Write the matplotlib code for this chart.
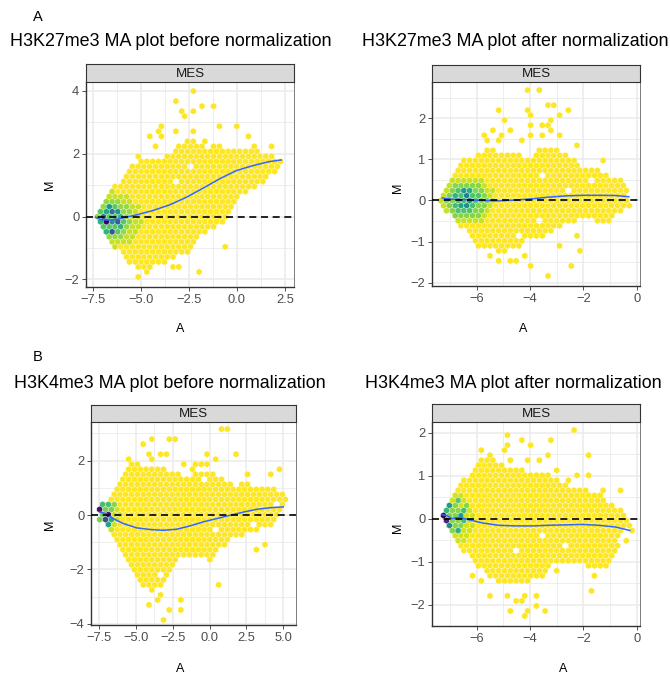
import numpy as np
import matplotlib
matplotlib.use("Agg")
import matplotlib.pyplot as plt

plt.rcParams['font.family'] = ['Liberation Sans', 'DejaVu Sans']

W, H, DPI = 670, 674, 100

# ------------------------------------------------------------------ data
titles = ["H3K27me3 MA plot before normalization",
          "H3K27me3 MA plot after normalization",
          "H3K4me3 MA plot before normalization",
          "H3K4me3 MA plot after normalization"]
strip_label = "MES"
row_letters = ["A", "B"]

# --- panel 1 (H3K27me3 before)
p1_env_a = [-7.4, -7.0, -6.5, -6.0, -5.5, -5.0, -4.5, -4.0, -3.5, -3.0, -2.5, -2.0, -1.5, -1.0, -0.5, -0.2, 0.0, 0.5, 1.0, 1.5, 2.0, 2.4]
p1_env_lo = [-0.1, -0.6, -0.92, -1.24, -1.5, -1.75, -1.67, -1.5, -1.45, -1.24, -1.03, -0.7, -0.45, -0.3, -0.05, 0.3, 0.6, 0.72, 0.88, 1.2, 1.4, 1.55]
p1_env_hi = [0.15, 0.5, 0.88, 1.14, 1.62, 1.84, 1.78, 1.85, 2.0, 2.3, 2.45, 2.4, 2.15, 2.3, 2.2, 2.15, 2.15, 2.2, 2.15, 2.0, 1.9, 1.7]
p1_out_a = [-2.33, -3.30, -1.86, -1.20, -2.99, -2.33, -2.64, -3.94, -0.07, -3.16, -4.12, -2.12, -0.85, 0.57, -4.64, -1.69, -4.03, 0.92, 1.87, -4.20, -5.25,
            -5.07, -4.64, -2.03, -0.56, -2.90, -3.86, -3.34, -2.55]
p1_out_m = [3.98, 3.62, 3.48, 3.48, 3.30, 3.30, 3.13, 2.95, 2.95, 2.79, 2.79, 2.68, 2.79, 2.61, 2.61, 2.47, 2.60, 2.26, 2.28, 2.15, 1.96,
            -1.93, -1.77, -1.77, -0.95, -1.61, -1.46, -1.51, -1.11]
p1_hole_a = [-3.16, -2.29]
p1_hole_m = [1.11, 1.62]
p1_zone_a = [-6.5, -6.5, -6.5]
p1_zone_m = [-0.1, -0.1, -0.1]
p1_zone_ra = [1.55, 1.05, 0.7]
p1_zone_rm = [0.9, 0.7, 0.5]
p1_zone_t = [0.08, 0.16, 0.26]
p1_dense_a = [-6.74, -6.55, -6.2, -6.91, -6.46, -6.55, -6.11, -6.17, -6.38, -7.12, -6.9, -6.75, -6.1, -5.9]
p1_dense_m = [-0.25, -0.44, -0.08, -0.06, 0.08, 0.30, 0.08, -0.22, -0.20, -0.21, -0.45, 0.15, -0.40, -0.06]
p1_dense_t = [1.0, 0.72, 0.7, 0.65, 0.6, 0.48, 0.48, 0.5, 0.5, 0.35, 0.35, 0.4, 0.35, 0.35]
p1_loess_a = [-7.36, -7.07, -6.63, -6.20, -5.77, -5.25, -4.38, -3.51, -2.64, -1.77, -0.90, -0.04, 0.83, 1.70, 2.31]
p1_loess_m = [-0.02, -0.10, -0.11, -0.08, -0.02, 0.05, 0.19, 0.37, 0.61, 0.90, 1.20, 1.46, 1.62, 1.75, 1.80]

# --- panel 2 (H3K27me3 after)
p2_env_a = [-7.36, -7.0, -6.5, -6.0, -5.5, -5.0, -4.5, -4.0, -3.5, -3.0, -2.5, -2.0, -1.5, -1.0, -0.5, -0.35]
p2_env_lo = [-0.12, -0.36, -0.69, -1.17, -1.21, -1.25, -1.17, -0.93, -0.93, -0.69, -0.53, -0.44, -0.52, -0.52, -0.2, -0.1]
p2_env_hi = [0.2, 0.5, 1.06, 1.1, 1.26, 1.14, 1.14, 1.0, 1.34, 1.3, 1.06, 0.81, 0.85, 0.53, 0.53, 0.3]
p2_out_a = [-4.14, -3.68, -5.2, -3.33, -3.08, -2.6, -4.11, -3.93, -2.95, -4.99, -3.30, -3.93, -3.65, -3.24, -5.43, -4.71, -3.2,
            -5.8, -5.08, -3.93, -3.65, -2.95, -5.61, -5.24, -4.24, -2.24, -1.36,
            -5.55, -5.18, -4.74, -4.49, -4.24, -4.05, -3.93, -3.43, -2.49, -2.11, -2.99, -2.24, -0.2]
p2_out_m = [2.66, 2.66, 2.26, 2.26, 2.26, 2.26, 2.13, 2.13, 2.13, 2.0, 2.0, 1.87, 1.87, 1.87, 1.73, 1.73, 1.73,
            1.6, 1.6, 1.6, 1.6, 1.6, 1.46, 1.46, 1.46, 1.34, 0.94,
            -1.33, -1.46, -1.46, -1.5, -1.38, -1.58, -1.58, -1.86, -1.58, -1.19, -1.07, -0.93, -0.15]
p2_hole_a = [-3.55, -2.55, -1.76, -3.68, -4.36]
p2_hole_m = [0.68, 0.27, 0.53, -0.52, -0.81]
p2_zone_a = [-6.4, -6.4, -6.4]
p2_zone_m = [0.0, 0.0, 0.0]
p2_zone_ra = [1.1, 0.8, 0.5]
p2_zone_rm = [0.6, 0.47, 0.32]
p2_zone_t = [0.08, 0.18, 0.28]
p2_dense_a = [-6.45, -6.36, -6.18, -6.49, -6.6, -6.2, -6.75, -6.9]
p2_dense_m = [0.13, -0.12, -0.04, 0.25, -0.05, 0.2, 0.1, -0.1]
p2_dense_t = [0.58, 0.5, 0.45, 0.45, 0.42, 0.38, 0.35, 0.3]
p2_loess_a = [-7.30, -6.93, -6.43, -5.80, -5.18, -4.55, -3.93, -3.30, -2.68, -2.05, -1.43, -0.80, -0.30]
p2_loess_m = [0.06, 0.03, 0.02, 0.0, -0.01, 0.01, 0.04, 0.08, 0.11, 0.125, 0.125, 0.12, 0.09]

# --- panel 3 (H3K4me3 before)
p3_env_a = [-7.48, -7.0, -6.5, -6.0, -5.5, -5.0, -4.5, -4.0, -3.5, -3.0, -2.5, -2.0, -1.5, -1.0, -0.5, 0.0, 0.5, 1.0, 1.5, 2.0, 2.5, 3.0, 3.5, 4.0, 4.5, 5.0, 5.3]
p3_env_lo = [-0.2, -0.5, -0.87, -1.3, -1.72, -2.2, -2.64, -2.95, -2.7, -2.46, -1.85, -1.54, -1.48, -1.48, -1.48, -1.66, -1.48, -1.1, -0.87, -0.8, -0.62, -0.62, -0.5, -0.45, -0.19, 0.12, 0.6]
p3_env_hi = [0.18, 0.54, 0.97, 1.4, 1.83, 1.95, 1.71, 1.83, 1.77, 1.7, 1.6, 1.46, 1.4, 1.6, 1.6, 1.65, 1.4, 1.28, 1.16, 1.1, 1.2, 1.1, 0.97, 0.97, 0.97, 0.91, 0.8]
p3_out_a = [0.64, 1.04, -4.45, -3.93, -2.69, -2.28, -3.48, -3.09, -4.22, -0.2, 1.83, -5.4, -3.93, 0.43, -1.9, -1.15, -0.65, -0.2, 0.02, -1.33, 2.69, 3.98, 4.55,
            -2.08, -2.08, 0.59, -3.14, -2.91, -4.04, -3.7, -3.36, 3.12, 3.75]
p3_out_m = [3.09, 3.09, 2.69, 2.69, 2.69, 2.69, 2.28, 2.28, 2.32, 2.28, 2.28, 2.1, 2.1, 2.1, 1.89, 1.89, 1.89, 1.89, 1.89, 1.71, 1.49, 1.49, 1.71,
            -3.19, -3.54, -2.55, -3.75, -3.54, -3.26, -3.07, -3.01, -1.3, -0.99]
p3_hole_a = [-0.43, 2.9, 3.75, 4.55, 0.48, -3.48, -4.16]
p3_hole_m = [1.34, -0.3, -0.72, 0.48, -0.62, -2.15, -2.7]
p3_zone_a = [-7.0, -7.1]
p3_zone_m = [0.0, 0.0]
p3_zone_ra = [0.95, 0.55]
p3_zone_rm = [0.6, 0.38]
p3_zone_t = [0.07, 0.2]
p3_dense_a = [-7.43, -7.03, -7.21, -7.03, -7.2, -6.8, -6.8, -6.53]
p3_dense_m = [0.09, 0.09, -0.13, -0.31, 0.3, 0.3, -0.13, 0.48]
p3_dense_t = [0.95, 0.95, 0.75, 0.42, 0.3, 0.3, 0.38, 0.18]
p3_loess_a = [-7.43, -6.98, -6.53, -5.85, -4.95, -4.04, -3.14, -2.23, -1.33, -0.43, 0.48, 1.38, 2.29, 3.19, 4.09, 4.99]
p3_loess_m = [0.11, 0.05, -0.13, -0.31, -0.47, -0.53, -0.56, -0.52, -0.40, -0.25, -0.13, -0.01, 0.11, 0.21, 0.27, 0.30]

# --- panel 4 (H3K4me3 after)
p4_env_a = [-7.33, -7.0, -6.5, -6.0, -5.5, -5.0, -4.5, -4.0, -3.5, -3.0, -2.5, -2.0, -1.5, -1.0, -0.5, -0.2]
p4_env_lo = [-0.07, -0.38, -0.73, -1.08, -1.39, -1.54, -1.54, -1.46, -1.31, -1.0, -1.08, -1.08, -1.15, -1.08, -0.3, -0.15]
p4_env_hi = [0.08, 0.43, 0.9, 1.32, 1.47, 1.24, 1.16, 1.09, 1.1, 0.93, 0.74, 0.7, 0.62, 0.35, 0.16, 0.0]
p4_out_a = [-2.45, -4.93, -4.33, -3.99, -3.18, -5.74, -5.49, -5.03, -4.93, -3.3, -1.86, -4.68, -4.11, -3.68, -2.93, -2.24, -1.74, -2.58, -1.18, -0.68,
            -1.61, -1.74, -5.4, -4.93, -4.61, -4.36, -4.24, -3.86, -4.8, -4.24, -4.05, -3.39, -3.74, -2.99, -6.11, -5.8, -0.43, -0.18]
p4_out_m = [2.04, 1.92, 1.8, 1.67, 1.8, 1.55, 1.55, 1.55, 1.67, 1.44, 1.44, 1.32, 1.32, 1.32, 1.17, 1.05, 1.05, 0.93, 0.7, 0.69,
            -1.29, -1.66, -1.77, -1.77, -1.89, -1.89, -1.77, -1.77, -2.16, -2.27, -2.16, -2.16, -2.0, -1.15, -1.29, -1.39, -0.54, -0.3]
p4_hole_a = [-3.6, -4.45, -2.74]
p4_hole_m = [-0.42, -0.78, -0.67]
p4_zone_a = [-6.9, -6.9]
p4_zone_m = [0.0, 0.0]
p4_zone_ra = [0.85, 0.5]
p4_zone_rm = [0.6, 0.38]
p4_zone_t = [0.07, 0.18]
p4_dense_a = [-7.15, -7.08, -6.93, -7.05, -6.8, -6.68, -6.53, -6.43, -6.93, -7.05, -6.8, -6.58]
p4_dense_m = [0.08, 0.0, 0.31, 0.2, 0.43, 0.08, 0.2, 0.31, -0.19, -0.07, -0.3, -0.07]
p4_dense_t = [1.0, 0.9, 0.45, 0.33, 0.26, 0.45, 0.3, 0.18, 0.52, 0.42, 0.36, 0.3]
p4_loess_a = [-7.30, -7.11, -6.93, -6.74, -6.55, -6.30, -5.80, -5.18, -4.55, -3.93, -3.30, -2.68, -2.05, -1.43, -0.80, -0.26]
p4_loess_m = [0.10, 0.07, 0.005, 0.03, 0.02, -0.02, -0.095, -0.15, -0.165, -0.165, -0.15, -0.14, -0.13, -0.15, -0.19, -0.27]

# axis setup per panel
p1_xticks = [-7.5, -5.0, -2.5, 0.0, 2.5]
p1_xlabels = ["\u22127.5", "\u22125.0", "\u22122.5", "0.0", "2.5"]
p1_yticks = [-2, 0, 2, 4]
p2_xticks = [-6, -4, -2, 0]
p2_xlabels = ["\u22126", "\u22124", "\u22122", "0"]
p2_yticks = [-2, -1, 0, 1, 2]
p3_xticks = [-7.5, -5.0, -2.5, 0.0, 2.5, 5.0]
p3_xlabels = ["\u22127.5", "\u22125.0", "\u22122.5", "0.0", "2.5", "5.0"]
p3_yticks = [-4, -2, 0, 2]
p4_xticks = [-6, -4, -2, 0]
p4_xlabels = ["\u22126", "\u22124", "\u22122", "0"]
p4_yticks = [-2, -1, 0, 1, 2]

# ------------------------------------------------------------------ drawing
fig = plt.figure(figsize=(W / DPI, H / DPI), dpi=DPI)
fig.patch.set_facecolor("white")

HEX_PX = 5.8


def add_ax(l, t, r, b):
    return fig.add_axes([l / W, 1 - b / H, (r - l) / W, (b - t) / H])


def hex_layer(ax, xlim, ylim, wpx, hpx, env_a, env_lo, env_hi, out_a, out_m,
              hole_a, hole_m, za, zm, zra, zrm, zt, da, dm, dt):
    sx = HEX_PX * (xlim[1] - xlim[0]) / wpx
    sy = np.sqrt(3) * HEX_PX * (ylim[1] - ylim[0]) / hpx
    nx = int(np.ceil((xlim[1] - xlim[0]) / sx))
    ny = int(np.ceil((ylim[1] - ylim[0]) / sy))
    xmin, ymin = xlim[0], ylim[0]
    xmax, ymax = xmin + nx * sx, ymin + ny * sy

    def snap(x, y):
        xs = (x - xmin) / sx
        ys = (y - ymin) / sy
        i1, j1 = np.round(xs), np.round(ys)
        i2, j2 = np.floor(xs), np.floor(ys)
        d1 = (xs - i1) ** 2 + 3 * (ys - j1) ** 2
        d2 = (xs - i2 - .5) ** 2 + 3 * (ys - j2 - .5) ** 2
        if d1 <= d2:
            return (1, int(i1), int(j1)), (xmin + i1 * sx, ymin + j1 * sy)
        return (2, int(i2), int(j2)), (xmin + (i2 + .5) * sx, ymin + (j2 + .5) * sy)

    holes = set(snap(a, m)[0] for a, m in zip(hole_a, hole_m))
    cells = {}
    for lat, off in ((1, 0.0), (2, 0.5)):
        for i in range(nx + 1):
            a = xmin + (i + off) * sx
            if a < env_a[0] or a > env_a[-1]:
                continue
            lo = np.interp(a, env_a, env_lo)
            hi = np.interp(a, env_a, env_hi)
            for j in range(ny + 1):
                m = ymin + (j + off) * sy
                if lo <= m <= hi and (lat, i, j) not in holes:
                    cells[(lat, i, j)] = [a, m, 0.0]
    for a, m in zip(out_a, out_m):
        k, c = snap(a, m)
        cells.setdefault(k, [c[0], c[1], 0.0])
    for k, v in cells.items():
        for a0, m0, ra, rm, t in zip(za, zm, zra, zrm, zt):
            if ((v[0] - a0) / ra) ** 2 + ((v[1] - m0) / rm) ** 2 <= 1:
                v[2] = max(v[2], t)
    for a, m, t in zip(da, dm, dt):
        k, c = snap(a, m)
        v = cells.setdefault(k, [c[0], c[1], 0.0])
        v[2] = max(v[2], t)
    arr = np.array(list(cells.values()))
    ax.hexbin(arr[:, 0], arr[:, 1], C=arr[:, 2], gridsize=(nx, ny),
              extent=(xmin, xmax, ymin, ymax), reduce_C_function=np.max,
              cmap="viridis_r", vmin=0, vmax=1, edgecolors="#FFFFFF",
              linewidths=0.2, zorder=2)


def panel(rect, strip_top, xlim, ylim, xticks, xlabels, xminor, yticks, yminor,
          title, title_xy, xlab_xy, ylab_xy, data, loess):
    l, t, r, b = rect
    ax = add_ax(l, t, r, b)
    ax.set_facecolor("white")
    hex_layer(ax, xlim, ylim, r - l, b - t, *data)
    ax.axhline(0, color="black", lw=1.2, ls=(0, (4.2, 2.8)), zorder=5)
    ax.plot(loess[0], loess[1], color="#3366FF", lw=1.1, zorder=4)
    ax.set_xlim(xlim)
    ax.set_ylim(ylim)
    ax.set_xticks(xticks)
    ax.set_xticklabels(xlabels)
    ax.set_yticks(yticks)
    ax.set_yticklabels(["\u2212%g" % -v if v < 0 else "%g" % v for v in yticks])
    ax.set_xticks(xminor, minor=True)
    ax.set_yticks(yminor, minor=True)
    ax.set_axisbelow(True)
    ax.grid(True, which="major", color="#EBEBEB", lw=1.1)
    ax.grid(True, which="minor", color="#EBEBEB", lw=0.6)
    ax.tick_params(which="major", length=2.75, width=0.6, color="#333333",
                   labelsize=9.3, labelcolor="#4D4D4D", pad=2)
    ax.tick_params(which="minor", length=0)
    for s in ("left", "bottom"):
        ax.spines[s].set_color("#333333")
        ax.spines[s].set_linewidth(1.0)
    for s in ("right", "top"):
        ax.spines[s].set_color("#666666")
        ax.spines[s].set_linewidth(0.6)
    # strip
    sax = add_ax(l, strip_top, r, t)
    sax.set_facecolor("#D9D9D9")
    sax.set_xticks([])
    sax.set_yticks([])
    for s in sax.spines.values():
        s.set_color("#333333")
        s.set_linewidth(0.8)
    sax.text(0.5, 0.45, strip_label, ha="center", va="center", fontsize=9.6,
             color="#1A1A1A", transform=sax.transAxes)
    fig.text(title_xy[0] / W, 1 - title_xy[1] / H, title, ha="center",
             va="center", fontsize=12.9, color="black")
    fig.text(xlab_xy[0] / W, 1 - xlab_xy[1] / H, "A", ha="center", va="center",
             fontsize=9.0, color="black")
    fig.text(ylab_xy[0] / W, 1 - ylab_xy[1] / H, "M", ha="center", va="center",
             fontsize=9.0, color="black", rotation=90)


panel((86, 82, 294, 287), 64, (-7.85, 2.97), (-2.24, 4.28), p1_xticks, p1_xlabels,
      [-6.25, -3.75, -1.25, 1.25], p1_yticks, [-1, 1, 3], titles[0], (171, 42),
      (180, 329), (50, 185),
      (p1_env_a, p1_env_lo, p1_env_hi, p1_out_a, p1_out_m, p1_hole_a, p1_hole_m,
       p1_zone_a, p1_zone_m, p1_zone_ra, p1_zone_rm, p1_zone_t,
       p1_dense_a, p1_dense_m, p1_dense_t), (p1_loess_a, p1_loess_m))

panel((432, 82, 640, 286), 65, (-7.68, 0.12), (-2.08, 2.88), p2_xticks, p2_xlabels,
      [-7, -5, -3, -1], p2_yticks, [-1.5, -0.5, 0.5, 1.5, 2.5], titles[1], (515, 42),
      (523, 329), (398, 188),
      (p2_env_a, p2_env_lo, p2_env_hi, p2_out_a, p2_out_m, p2_hole_a, p2_hole_m,
       p2_zone_a, p2_zone_m, p2_zone_ra, p2_zone_rm, p2_zone_t,
       p2_dense_a, p2_dense_m, p2_dense_t), (p2_loess_a, p2_loess_m))

panel((91, 422, 296, 625), 405, (-8.04, 5.86), (-4.04, 3.42), p3_xticks, p3_xlabels,
      [-6.25, -3.75, -1.25, 1.25, 3.75], p3_yticks, [-3, -1, 1, 3], titles[2], (170, 383),
      (180, 669), (50, 525),
      (p3_env_a, p3_env_lo, p3_env_hi, p3_out_a, p3_out_m, p3_hole_a, p3_hole_m,
       p3_zone_a, p3_zone_m, p3_zone_ra, p3_zone_rm, p3_zone_t,
       p3_dense_a, p3_dense_m, p3_dense_t), (p3_loess_a, p3_loess_m))

panel((432, 422, 640, 626), 404, (-7.68, 0.12), (-2.49, 2.25), p4_xticks, p4_xlabels,
      [-7, -5, -3, -1], p4_yticks, [-1.5, -0.5, 0.5, 1.5], titles[3], (513, 383),
      (563, 669), (398, 528),
      (p4_env_a, p4_env_lo, p4_env_hi, p4_out_a, p4_out_m, p4_hole_a, p4_hole_m,
       p4_zone_a, p4_zone_m, p4_zone_ra, p4_zone_rm, p4_zone_t,
       p4_dense_a, p4_dense_m, p4_dense_t), (p4_loess_a, p4_loess_m))

fig.text(38 / W, 1 - 17 / H, row_letters[0], ha="center", va="center", fontsize=10.5)
fig.text(38 / W, 1 - 357 / H, row_letters[1], ha="center", va="center", fontsize=10.5)

fig.savefig("out.png", dpi=DPI, facecolor="white")
